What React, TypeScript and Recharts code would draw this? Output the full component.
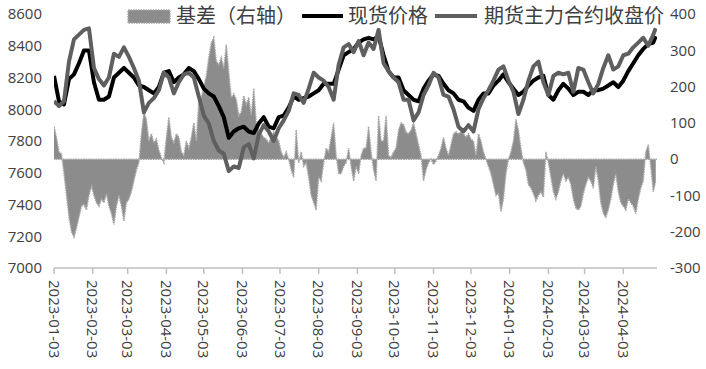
import {
  Area,
  ComposedChart,
  Line,
  ReferenceLine,
  XAxis,
  YAxis,
} from "recharts";

// price series, sampled every 4 days
const dates = [
  "2023-01-03", "2023-01-07", "2023-01-11", "2023-01-15", "2023-01-19", "2023-01-23", "2023-01-27", "2023-01-31",
  "2023-02-04", "2023-02-08", "2023-02-12", "2023-02-16", "2023-02-20", "2023-02-24", "2023-02-28",
  "2023-03-04", "2023-03-08", "2023-03-12", "2023-03-16", "2023-03-20", "2023-03-24", "2023-03-28",
  "2023-04-01", "2023-04-05", "2023-04-09", "2023-04-13", "2023-04-17", "2023-04-21", "2023-04-25", "2023-04-29",
  "2023-05-03", "2023-05-07", "2023-05-11", "2023-05-15", "2023-05-19", "2023-05-23", "2023-05-27", "2023-05-31",
  "2023-06-04", "2023-06-08", "2023-06-12", "2023-06-16", "2023-06-20", "2023-06-24", "2023-06-28",
  "2023-07-02", "2023-07-06", "2023-07-10", "2023-07-14", "2023-07-18", "2023-07-22", "2023-07-26", "2023-07-30",
  "2023-08-03", "2023-08-07", "2023-08-11", "2023-08-15", "2023-08-19", "2023-08-23", "2023-08-27", "2023-08-31",
  "2023-09-04", "2023-09-08", "2023-09-12", "2023-09-16", "2023-09-20", "2023-09-24", "2023-09-28",
  "2023-10-02", "2023-10-06", "2023-10-10", "2023-10-14", "2023-10-18", "2023-10-22", "2023-10-26", "2023-10-30",
  "2023-11-03", "2023-11-07", "2023-11-11", "2023-11-15", "2023-11-19", "2023-11-23", "2023-11-27",
  "2023-12-01", "2023-12-05", "2023-12-09", "2023-12-13", "2023-12-17", "2023-12-21", "2023-12-25", "2023-12-29",
  "2024-01-02", "2024-01-06", "2024-01-10", "2024-01-14", "2024-01-18", "2024-01-22", "2024-01-26", "2024-01-30",
  "2024-02-03", "2024-02-07", "2024-02-11", "2024-02-15", "2024-02-19", "2024-02-23", "2024-02-27",
  "2024-03-02", "2024-03-06", "2024-03-10", "2024-03-14", "2024-03-18", "2024-03-22", "2024-03-26", "2024-03-30",
  "2024-04-03", "2024-04-07", "2024-04-11", "2024-04-15", "2024-04-19", "2024-04-23", "2024-04-27", "2024-04-29",
];

// 现货价格
const spot = [
  8210, 8050, 8030, 8190, 8220, 8290, 8370, 8370,
  8170, 8060, 8060, 8080, 8200, 8230, 8260,
  8230, 8200, 8150, 8140, 8120, 8100, 8140,
  8230, 8240, 8170, 8200, 8220, 8260, 8240, 8190,
  8130, 8100, 8080, 8020, 7950, 7820, 7860, 7880,
  7890, 7860, 7850, 7910, 7950, 7890, 7880,
  7950, 7960, 8010, 8080, 8060, 8070, 8080, 8100,
  8120, 8160, 8160, 8160, 8250, 8340, 8360, 8380,
  8420, 8440, 8450, 8440, 8460, 8340, 8240,
  8200, 8200, 8120, 8090, 8060, 8050, 8130, 8180,
  8220, 8210, 8160, 8120, 8100, 8060, 8050,
  8010, 7990, 8060, 8100, 8100, 8150, 8180, 8220,
  8170, 8130, 8090, 8110, 8150, 8180, 8200, 8210,
  8090, 8060, 8120, 8160, 8130, 8090, 8110,
  8110, 8090, 8120, 8120, 8130, 8150, 8170, 8140,
  8180, 8240, 8290, 8340, 8380, 8410, 8420, 8460,
];

// 期货主力合约收盘价
const futures = [
  8050, 8020, 8050, 8300, 8440, 8470, 8500, 8510,
  8260, 8190, 8150, 8200, 8350, 8330, 8390,
  8330, 8260, 8180, 7980, 8040, 8070, 8120,
  8230, 8200, 8100, 8170, 8220, 8230, 8200, 8080,
  7960, 7910, 7800, 7740, 7720, 7610, 7640, 7630,
  7760, 7780, 7690, 7840, 7900, 7860, 7800,
  7880, 7930, 7990, 8100, 8090, 8040, 8130, 8230,
  8200, 8180, 8140, 8060, 8280, 8390, 8410, 8360,
  8430, 8340, 8420, 8380, 8500, 8290, 8240,
  8200, 8170, 8060, 8060, 7930, 7980, 8090, 8150,
  8230, 8200, 8090, 8080, 8000, 7890, 7860,
  7900, 7860, 8000, 8070, 8120, 8180, 8250, 8270,
  8180, 8110, 7970, 8060, 8180, 8270, 8300, 8170,
  8090, 8210, 8230, 8220, 8230, 8110, 8260,
  8250, 8170, 8100, 8160, 8260, 8340, 8250, 8270,
  8340, 8350, 8390, 8420, 8450, 8400, 8470, 8510,
];

// basis series, sampled every 2 days
const basisDates = [
  "2023-01-03", "2023-01-05", "2023-01-07", "2023-01-09", "2023-01-11", "2023-01-13", "2023-01-15", "2023-01-17",
  "2023-01-19", "2023-01-21", "2023-01-23", "2023-01-25", "2023-01-27", "2023-01-29", "2023-01-31",
  "2023-02-02", "2023-02-04", "2023-02-06", "2023-02-08", "2023-02-10", "2023-02-12", "2023-02-14",
  "2023-02-16", "2023-02-18", "2023-02-20", "2023-02-22", "2023-02-24", "2023-02-26", "2023-02-28",
  "2023-03-02", "2023-03-04", "2023-03-06", "2023-03-08", "2023-03-10", "2023-03-12", "2023-03-14", "2023-03-16",
  "2023-03-18", "2023-03-20", "2023-03-22", "2023-03-24", "2023-03-26", "2023-03-28", "2023-03-30",
  "2023-04-01", "2023-04-03", "2023-04-05", "2023-04-07", "2023-04-09", "2023-04-11", "2023-04-13", "2023-04-15",
  "2023-04-17", "2023-04-19", "2023-04-21", "2023-04-23", "2023-04-25", "2023-04-27", "2023-04-29",
  "2023-05-01", "2023-05-03", "2023-05-05", "2023-05-07", "2023-05-09", "2023-05-11", "2023-05-13", "2023-05-15",
  "2023-05-17", "2023-05-19", "2023-05-21", "2023-05-23", "2023-05-25", "2023-05-27", "2023-05-29", "2023-05-31",
  "2023-06-02", "2023-06-04", "2023-06-06", "2023-06-08", "2023-06-10", "2023-06-12", "2023-06-14", "2023-06-16",
  "2023-06-18", "2023-06-20", "2023-06-22", "2023-06-24", "2023-06-26", "2023-06-28", "2023-06-30",
  "2023-07-02", "2023-07-04", "2023-07-06", "2023-07-08", "2023-07-10", "2023-07-12", "2023-07-14", "2023-07-16",
  "2023-07-18", "2023-07-20", "2023-07-22", "2023-07-24", "2023-07-26", "2023-07-28", "2023-07-30",
  "2023-08-01", "2023-08-03", "2023-08-05", "2023-08-07", "2023-08-09", "2023-08-11", "2023-08-13", "2023-08-15",
  "2023-08-17", "2023-08-19", "2023-08-21", "2023-08-23", "2023-08-25", "2023-08-27", "2023-08-29", "2023-08-31",
  "2023-09-02", "2023-09-04", "2023-09-06", "2023-09-08", "2023-09-10", "2023-09-12", "2023-09-14", "2023-09-16",
  "2023-09-18", "2023-09-20", "2023-09-22", "2023-09-24", "2023-09-26", "2023-09-28", "2023-09-30",
  "2023-10-02", "2023-10-04", "2023-10-06", "2023-10-08", "2023-10-10", "2023-10-12", "2023-10-14", "2023-10-16",
  "2023-10-18", "2023-10-20", "2023-10-22", "2023-10-24", "2023-10-26", "2023-10-28", "2023-10-30",
  "2023-11-01", "2023-11-03", "2023-11-05", "2023-11-07", "2023-11-09", "2023-11-11", "2023-11-13", "2023-11-15",
  "2023-11-17", "2023-11-19", "2023-11-21", "2023-11-23", "2023-11-25", "2023-11-27", "2023-11-29",
  "2023-12-01", "2023-12-03", "2023-12-05", "2023-12-07", "2023-12-09", "2023-12-11", "2023-12-13", "2023-12-15",
  "2023-12-17", "2023-12-19", "2023-12-21", "2023-12-23", "2023-12-25", "2023-12-27", "2023-12-29", "2023-12-31",
  "2024-01-02", "2024-01-04", "2024-01-06", "2024-01-08", "2024-01-10", "2024-01-12", "2024-01-14", "2024-01-16",
  "2024-01-18", "2024-01-20", "2024-01-22", "2024-01-24", "2024-01-26", "2024-01-28", "2024-01-30",
  "2024-02-01", "2024-02-03", "2024-02-05", "2024-02-07", "2024-02-09", "2024-02-11", "2024-02-13", "2024-02-15",
  "2024-02-17", "2024-02-19", "2024-02-21", "2024-02-23", "2024-02-25", "2024-02-27", "2024-02-29",
  "2024-03-02", "2024-03-04", "2024-03-06", "2024-03-08", "2024-03-10", "2024-03-12", "2024-03-14", "2024-03-16",
  "2024-03-18", "2024-03-20", "2024-03-22", "2024-03-24", "2024-03-26", "2024-03-28", "2024-03-30",
  "2024-04-01", "2024-04-03", "2024-04-05", "2024-04-07", "2024-04-09", "2024-04-11", "2024-04-13", "2024-04-15",
  "2024-04-17", "2024-04-19", "2024-04-21", "2024-04-23", "2024-04-25", "2024-04-27", "2024-04-29",
];

// 基差（右轴）
const basis = [
  90, 60, 20, 15, -40, -100, -160, -200, -215, -190, -160, -130, -125, -140, -100,
  -75, -100, -120, -130, -110, -120, -95, -130, -150, -180, -130, -100, -130, -170,
  -120, -110, -90, -60, -30, -10, 70, 130, 110, 50, 70, 45, 55, 25, 5,
  -10, 60, 115, 60, 45, 70, 60, 20, 10, 50, 30, 60, 100, 50, 160,
  170, 200, 230, 280, 320, 335, 270, 260, 280, 250, 315, 240, 170, 180, 165, 120,
  130, 175, 150, 170, 120, 195, 100, 80, 70, 60, 55, 45, 60, 75, 60,
  50, 20, 5, 20, 0, -30, -50, 80, -10, 20, -20, -10, -50, -100, -120,
  -140, -50, -60, -10, 30, 20, 60, 100, 10, -40, -40, -20, -10, 30, -20, -60,
  -20, -40, 10, 30, 30, 90, 20, -30, -60, 120, 50, 50, 120, 10, 5,
  20, 30, 80, 100, 95, 75, 70, 80, 100, 70, 40, 10, -60, -30, -10,
  0, -15, -5, 10, 30, 60, 30, 10, 40, 70, 75, 70, 75, 70, 60,
  70, 55, 50, 10, 70, 50, 20, 0, -20, -40, -70, -100, -95, -145, -110, -40,
  0, 20, 50, 110, 80, 30, -10, -30, -70, -80, -95, -115, -100, -90, -105,
  20, -10, -50, -90, -110, -90, -60, -40, -60, -50, -70, -110, -135, -140, -130,
  -95, -70, -50, -60, -80, -20, -60, -120, -150, -160, -140, -110, -70, -40, -90,
  -120, -130, -140, -110, -120, -130, -150, -110, -80, -60, 20, 40, -20, -90, -60,
];

const xTickLabels = [
  "2023-01-03", "2023-02-03", "2023-03-03", "2023-04-03", "2023-05-03", "2023-06-03",
  "2023-07-03", "2023-08-03", "2023-09-03", "2023-10-03", "2023-11-03", "2023-12-03",
  "2024-01-03", "2024-02-03", "2024-03-03", "2024-04-03",
];
const leftTicks = [7000, 7200, 7400, 7600, 7800, 8000, 8200, 8400, 8600];
const rightTicks = [-300, -200, -100, 0, 100, 200, 300, 400];
const xStart = "2023-01-03";
const xEnd = "2024-04-30";

const names = { basis: "基差（右轴）", spot: "现货价格", futures: "期货主力合约收盘价" };

const priceData = dates.map((d, i) => ({
  t: Date.parse(d),
  spot: spot[i],
  futures: futures[i],
}));
const basisData = basisDates.map((d, i) => ({ t: Date.parse(d), basis: basis[i] }));

const FONT = "'Open Sans', 'Noto Sans CJK SC', sans-serif";
const CJK = "'Noto Sans CJK SC', sans-serif";
const TEXT = "#404040";
const AXIS = "#bfbfbf";
const SPOT = "#000000";
const FUT = "#5f5f5f";
const BASIS_FILL = "#8c8c8c";
const BASIS_EDGE = "#a8a8a8";

function DateTick({ x, y, payload }: any) {
  const label = new Date(payload.value).toISOString().slice(0, 10);
  return (
    <text
      transform={`translate(${x},${y}) rotate(90)`}
      dy="0.36em"
      textAnchor="start"
      fontSize={15}
      fontFamily={FONT}
      fill={TEXT}
    >
      {label}
    </text>
  );
}

function LegendBar() {
  return (
    <svg
      width={706}
      height={30}
      style={{ position: "absolute", left: 0, top: 0, pointerEvents: "none" }}
    >
      <rect x={128} y={10} width={42} height={13} fill={BASIS_FILL} stroke={BASIS_EDGE} strokeWidth={1.5} strokeDasharray="1.5 1" />
      <text x={176} y={23} fontSize={20} fontFamily={CJK} fill={TEXT}>{names.basis}</text>
      <line x1={302} x2={343} y1={16} y2={16} stroke={SPOT} strokeWidth={4} />
      <text x={348} y={23} fontSize={20} fontFamily={CJK} fill={TEXT}>{names.spot}</text>
      <line x1={435} x2={477} y1={16} y2={16} stroke={FUT} strokeWidth={4} />
      <text x={484} y={23} fontSize={20} fontFamily={CJK} fill={TEXT}>{names.futures}</text>
    </svg>
  );
}

export default function App() {
  return (
    <div style={{ position: "absolute", left: 0, top: 0, width: 706, height: 369, background: "#fff" }}>
      <ComposedChart width={706} height={369} margin={{ top: 14, right: 0, bottom: 0, left: 0 }}>
        <XAxis
          dataKey="t"
          type="number"
          domain={[Date.parse(xStart), Date.parse(xEnd)]}
          allowDataOverflow
          ticks={xTickLabels.map((s) => Date.parse(s))}
          interval={0}
          height={101}
          tick={<DateTick />}
          tickSize={6}
          tickMargin={6}
          axisLine={{ stroke: AXIS, strokeWidth: 1.5 }}
          tickLine={{ stroke: AXIS, strokeWidth: 1.5 }}
        />
        <YAxis
          yAxisId="left"
          domain={[7000, 8600]}
          ticks={leftTicks}
          interval={0}
          width={54}
          axisLine={false}
          tickLine={false}
          tickSize={6}
          tickMargin={6}
          tick={{ fill: TEXT, fontSize: 15, fontFamily: FONT }}
        />
        <YAxis
          yAxisId="right"
          orientation="right"
          domain={[-300, 400]}
          ticks={rightTicks}
          interval={0}
          width={49}
          axisLine={false}
          tickLine={false}
          tickSize={6}
          tickMargin={7}
          tick={{ fill: TEXT, fontSize: 15, fontFamily: FONT }}
        />
        <Area
          yAxisId="right"
          data={basisData}
          dataKey="basis"
          name={names.basis}
          type="linear"
          baseValue={0}
          fill={BASIS_FILL}
          fillOpacity={1}
          stroke={BASIS_EDGE}
          strokeWidth={1.5}
          strokeDasharray="1.5 1"
          isAnimationActive={false}
        />
        <ReferenceLine yAxisId="right" y={0} stroke={BASIS_EDGE} strokeWidth={1.5} strokeDasharray="1.5 1" />
        <Line
          yAxisId="left"
          data={priceData}
          dataKey="spot"
          name={names.spot}
          type="linear"
          stroke={SPOT}
          strokeWidth={4}
          dot={false}
          strokeLinejoin="round"
          isAnimationActive={false}
        />
        <Line
          yAxisId="left"
          data={priceData}
          dataKey="futures"
          name={names.futures}
          type="linear"
          stroke={FUT}
          strokeWidth={4}
          dot={false}
          strokeLinejoin="round"
          isAnimationActive={false}
        />
      </ComposedChart>
      <LegendBar />
    </div>
  );
}
